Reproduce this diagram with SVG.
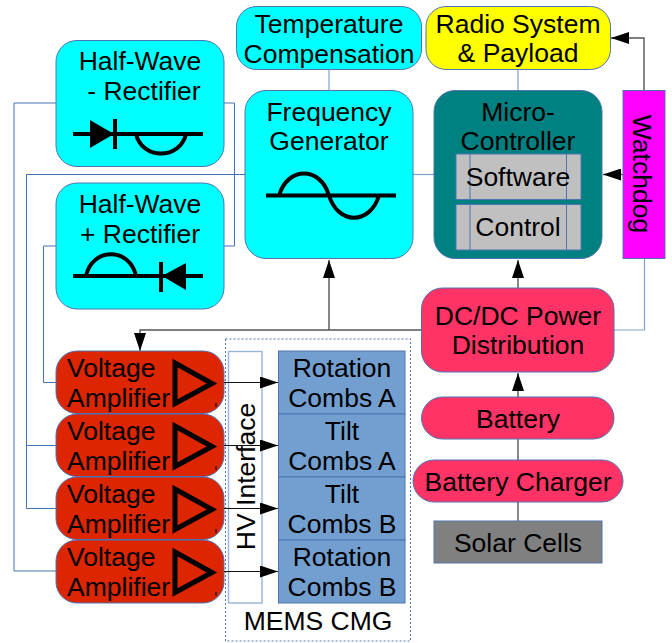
<svg xmlns="http://www.w3.org/2000/svg" width="672" height="643" viewBox="0 0 672 643">
<defs>
<marker id="arrow" markerUnits="userSpaceOnUse" markerWidth="18" markerHeight="12" refX="18" refY="6" orient="auto"><path d="M0 0L18 6L0 12Z" fill="#000"/></marker>
</defs>
<style>
text{font-family:"Liberation Sans",Arial,sans-serif;font-size:26.5px;fill:#000}
.c{text-anchor:middle}
.n{stroke:#4f74b3;stroke-width:1}
.cy{fill:#0ff}.rd{fill:#ff3366}.am{fill:#dd2500}.cb{fill:#729fcf;stroke:#4f74b3;stroke-width:1}
.gr{fill:#c0c0c0;stroke:#4f74b3;stroke-width:1}
.b{fill:none;stroke:#4472b4;stroke-width:1}
.lb{fill:none;stroke:#7f9fcf;stroke-width:1.2}
.k{fill:none;stroke:#555;stroke-width:1.4}
.k0{fill:none;stroke:#111;stroke-width:1.2}
.sym{fill:none;stroke:#000;stroke-width:4}
.tri{fill:none;stroke:#000;stroke-width:5}
.f{fill:#000;stroke:none}
</style>
<g id="connectors">
<path class="b" d="M56 103H14V571H56"/>
<path class="b" d="M245 174.500H26.500V508.500H56M26.500 445.500H56"/>
<path class="b" d="M56 246H43.500V382.500H56"/>
<path class="b" d="M224 103H234.500V246H224"/>
<path class="lb" d="M413 174.500H434"/>
<path class="lb" d="M329 69.500V90.500"/>
<path class="lb" d="M518 69.500V90.500"/>
<path class="lb" d="M644.500 258.500V330H614"/>
<path class="k" d="M644 90.500V38H611" marker-end="url(#arrow)"/>
<path class="k" d="M623 174.500H603" marker-end="url(#arrow)"/>
<path class="k" d="M518 288V260" marker-end="url(#arrow)"/>
<path class="k" d="M518 397V373" marker-end="url(#arrow)"/>
<path class="k" d="M518 460V439"/>
<path class="k" d="M518 521V502"/>
<path class="k" d="M421.500 330H140V351" marker-end="url(#arrow)"/>
<path class="k" d="M329 330V260" marker-end="url(#arrow)"/>
</g>
<g id="mems-cmg">
<rect x="225.500" y="339" width="185" height="302" fill="none" stroke="#4f74b3" stroke-width="1" stroke-dasharray="2 2"/>
<text class="c" x="318" y="630">MEMS CMG</text>
</g>
<g id="hv-interface">
<rect x="228.500" y="351.500" width="33.500" height="251.500" fill="#fff" stroke="#9ab3d8" stroke-width="1.4"/>
<text class="c" transform="translate(255 476.500) rotate(-90)">HV Interface</text>
</g>
<g id="half-wave-minus">
<rect class="n cy" x="56" y="40.500" width="168" height="126" rx="21"/>
<text class="c" x="140" y="70">Half-Wave</text>
<text class="c" x="144" y="100">- Rectifier</text>
<path class="sym" d="M73 134H203M115 119V149M136 134C142 160 180 160 186 134"/>
<path class="f" d="M90 120L114 134L90 148Z"/>
</g>
<g id="half-wave-plus">
<rect class="n cy" x="56" y="183" width="168" height="126" rx="21"/>
<text class="c" x="140" y="213">Half-Wave</text>
<text class="c" x="140" y="243">+ Rectifier</text>
<path class="sym" d="M73 276H203M161 262V292M86 276C92 247 130 247 136 276"/>
<path class="f" d="M186 263L162 276L186 290Z"/>
</g>
<g id="temperature-compensation">
<rect class="n cy" x="236.500" y="6.500" width="185" height="63" rx="20"/>
<text class="c" x="329" y="33">Temperature</text>
<text class="c" x="329" y="63">Compensation</text>
</g>
<g id="frequency-generator">
<rect class="n cy" x="245" y="90.500" width="168" height="168" rx="21"/>
<text class="c" x="329" y="121">Frequency</text>
<text class="c" x="329" y="150">Generator</text>
<path class="sym" d="M266 195.500H396M279 195.500C288 166 320 166 329 195.500C338 225 370 225 379 195.500"/>
</g>
<g id="radio-system">
<rect class="n" fill="#ffff00" x="426" y="6.500" width="184.500" height="63" rx="20"/>
<text class="c" x="518" y="33">Radio System</text>
<text class="c" x="518" y="62">&amp; Payload</text>
</g>
<g id="micro-controller">
<rect class="n" fill="#008080" x="434" y="90.500" width="168" height="168" rx="21"/>
<text class="c" x="518" y="121">Micro-</text>
<text class="c" x="518" y="150">Controller</text>
</g>
<g id="software">
<rect class="gr" x="456" y="154" width="125" height="45.500"/>
<path class="n" fill="none" d="M470 154V199.500M566.500 154V199.500"/>
<text class="c" x="518" y="186">Software</text>
</g>
<g id="control">
<rect class="gr" x="456" y="204.500" width="125" height="45.500"/>
<path class="n" fill="none" d="M470 204.500V250M566.500 204.500V250"/>
<text class="c" x="518" y="236">Control</text>
</g>
<g id="watchdog">
<rect class="n" fill="#ff00ff" x="623" y="90.500" width="42" height="168"/>
<text class="c" transform="translate(633 174) rotate(90)">Watchdog</text>
</g>
<g id="dcdc">
<rect class="n rd" x="421.500" y="288" width="192.500" height="84" rx="21"/>
<text class="c" x="518" y="325">DC/DC Power</text>
<text class="c" x="518" y="354">Distribution</text>
</g>
<g id="battery">
<rect class="n rd" x="421.500" y="397" width="192.500" height="42" rx="21"/>
<text class="c" x="518" y="428">Battery</text>
</g>
<g id="battery-charger">
<rect class="n rd" x="413" y="460" width="210" height="42" rx="21"/>
<text class="c" x="518" y="491">Battery Charger</text>
</g>
<g id="solar-cells">
<rect class="n" fill="#808080" x="434" y="521" width="168" height="42"/>
<text class="c" x="518" y="552">Solar Cells</text>
</g>
<g id="combs">
<g id="rotation-a"><rect class="cb" x="278.500" y="351" width="126.500" height="63"/><text class="c" x="342" y="377">Rotation</text><text class="c" x="342" y="407">Combs A</text></g>
<g id="tilt-a"><rect class="cb" x="278.500" y="414" width="126.500" height="63"/><text class="c" x="342" y="440">Tilt</text><text class="c" x="342" y="470">Combs A</text></g>
<g id="tilt-b"><rect class="cb" x="278.500" y="477" width="126.500" height="63"/><text class="c" x="342" y="503">Tilt</text><text class="c" x="342" y="533">Combs B</text></g>
<g id="rotation-b"><rect class="cb" x="278.500" y="540" width="126.500" height="63"/><text class="c" x="342" y="566">Rotation</text><text class="c" x="342" y="596">Combs B</text></g>
</g>
<g id="amplifier-1">
<rect class="n am" x="56" y="351" width="168" height="62.500" rx="21"/>
<text x="67" y="377">Voltage</text><text x="67" y="407">Amplifier</text>
<path class="tri" d="M175 363V403.500L212 383.500Z"/>
<path class="k0" d="M216 403V407"/>
<path class="k0" d="M224 382.500H278" marker-end="url(#arrow)"/>
</g>
<g id="amplifier-2">
<rect class="n am" x="56" y="414" width="168" height="62.500" rx="21"/>
<text x="67" y="440">Voltage</text><text x="67" y="470">Amplifier</text>
<path class="tri" d="M175 426V466.500L212 446.500Z"/>
<path class="k0" d="M216 466V470"/>
<path class="k0" d="M224 445.500H278" marker-end="url(#arrow)"/>
</g>
<g id="amplifier-3">
<rect class="n am" x="56" y="477" width="168" height="62.500" rx="21"/>
<text x="67" y="503">Voltage</text><text x="67" y="533">Amplifier</text>
<path class="tri" d="M175 489V529.500L212 509.500Z"/>
<path class="k0" d="M216 529V533"/>
<path class="k0" d="M224 508.500H278" marker-end="url(#arrow)"/>
</g>
<g id="amplifier-4">
<rect class="n am" x="56" y="540" width="168" height="63" rx="21"/>
<text x="67" y="566">Voltage</text><text x="67" y="596">Amplifier</text>
<path class="tri" d="M175 552V592.500L212 572.500Z"/>
<path class="k0" d="M216 592V596"/>
<path class="k0" d="M224 571.500H278" marker-end="url(#arrow)"/>
</g>
</svg>
